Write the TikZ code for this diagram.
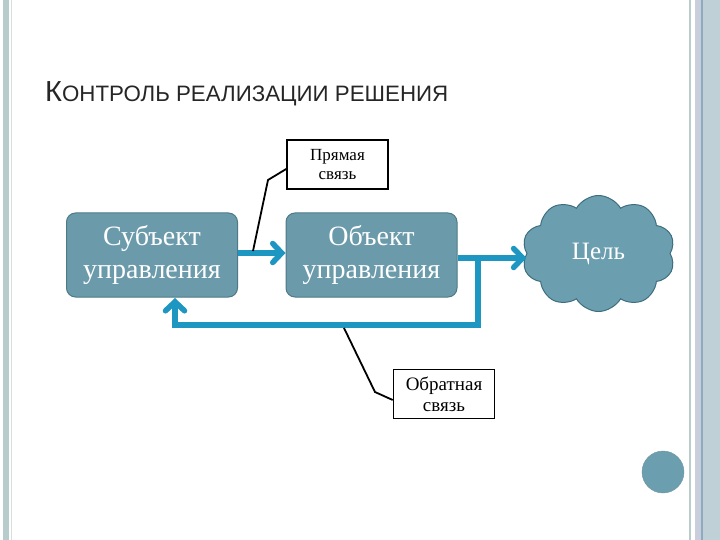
\documentclass[tikz,border=0pt]{standalone}
\usepackage{fontspec}
\setmainfont{Liberation Serif}
\newfontfamily\titlefont{Liberation Sans}
\usetikzlibrary{shapes.symbols,arrows.meta}
\definecolor{boxfill}{HTML}{6B9BAB}
\definecolor{boxline}{HTML}{4E7A88}
\definecolor{arrowc}{HTML}{1E96C2}
\definecolor{cloudfill}{HTML}{6B9FB0}
\definecolor{cloudline}{HTML}{3E6E7E}
\definecolor{stripeA}{HTML}{B8CCCC}
\definecolor{stripeB}{HTML}{C8CEDC}
\definecolor{stripeC}{HTML}{8FA9C0}
\definecolor{stripeD}{HTML}{BFD0D6}
\tikzset{
  mainbox/.style={draw=boxline, line width=1pt, fill=boxfill, rounded corners=9pt,
    minimum width=171pt, minimum height=84pt, inner sep=0pt, text=white,
    font=\fontsize{28}{33}\selectfont, align=center},
  notebox/.style={draw=black, line width=1.6pt, fill=white, minimum width=101pt,
    minimum height=49pt, inner sep=0pt, align=center},
  flow/.style={draw=arrowc, line width=5.5pt, line cap=butt},
  flowtip/.style={-{Straight Barb[length=9pt,width=19pt,line cap=round]}},
  callout/.style={draw=black, line width=1.8pt}
}
\begin{document}
\begin{tikzpicture}[x=1pt,y=-1pt]
\useasboundingbox (0,0) rectangle (720,540);
\fill[white] (0,0) rectangle (720,540);
% borders
\fill[stripeA] (3,0) rectangle (9,540);
\fill[stripeA!60] (10.5,0) rectangle (11.5,540);
\fill[stripeA] (689,0) rectangle (691,540);
\fill[stripeB] (695,0) rectangle (701,540);
\fill[stripeC] (701,0) rectangle (703,540);
\fill[stripeD] (703,0) rectangle (720,540);
% title
\node[anchor=base west, inner sep=0pt, text=black!85] (title) at (45,102)
  {\titlefont\fontsize{29}{29}\selectfont К\fontsize{22.3}{22}\selectfont ОНТРОЛЬ РЕАЛИЗАЦИИ РЕШЕНИЯ};
% boxes
\node[mainbox] (subj) at (152,255) {Субъект\\управления};
\node[mainbox] (obj) at (371.5,255) {Объект\\управления};
\node[cloud, cloud puffs=10, cloud puff arc=120, draw=cloudline, line width=1pt,
  fill=cloudfill, minimum width=153pt, minimum height=116pt, inner sep=0pt,
  text=white, font=\fontsize{25}{28}\selectfont] (goal) at (598.5,253.5) {Цель};
% note boxes
\node[notebox, font=\fontsize{17}{21}\selectfont] (direct) at (337.5,164.5) {Прямая\\[-2pt]связь};
\node[notebox, font=\fontsize{19}{23}\selectfont] (back) at (444,394) {Обратная\\[-2pt]связь};
% connectors
\coordinate (s1) at (subj.east |- 0,253);
\coordinate (o1) at (obj.west |- 0,253);
\draw[flow, flowtip] (s1) -- (o1);
\coordinate (o2) at (obj.east |- 0,258);
\coordinate (g1) at (goal.west |- 0,258);
\draw[flow, flowtip] (o2) -- (g1);
\coordinate (fb1) at (478,258);
\coordinate (fb2) at (478,325);
\coordinate (fb3) at (175,325);
\coordinate (sb) at (175,298);
\draw[flow, flowtip] (fb1) -- (fb2) -- (fb3) -- (sb);
% callouts
\coordinate (c1) at (268,180);
\coordinate (c2) at (253,251);
\draw[callout] (direct.west |- 0,169) -- (c1) -- (c2);
\coordinate (c3) at (375,392);
\coordinate (c4) at (344,328);
\draw[callout] (back.west |- 0,400) -- (c3) -- (c4);
% circle
\node[circle, draw=boxline!80, fill=cloudfill, minimum size=42pt, inner sep=0pt] (dot) at (663,472) {};
\end{tikzpicture}
\end{document}
